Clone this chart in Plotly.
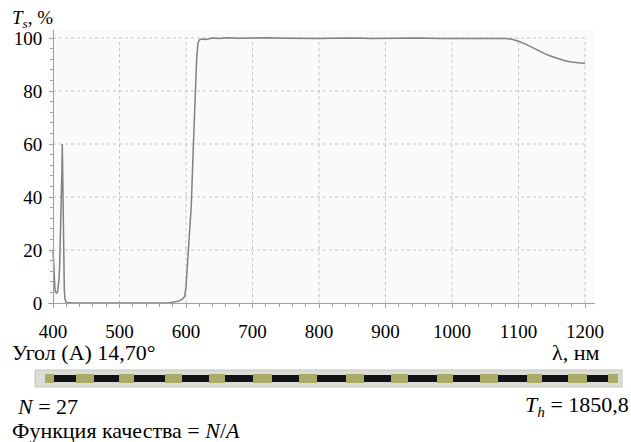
import numpy as np
import plotly.graph_objects as go

# ---- data ----
wavelength = [400, 401, 402, 403, 404, 405, 406, 407, 408, 409, 410, 411, 412, 413, 413.5, 414, 415, 416, 417, 418, 419, 420,
              430, 500, 560, 575, 580, 585, 590, 595, 598, 600, 602, 604, 606, 608, 610, 612, 614, 616, 618, 620, 624, 630,
              640, 650, 660, 680, 700, 720, 750, 780, 800, 820, 850, 880, 900, 920, 950, 980, 1000, 1020, 1040, 1060, 1070,
              1080, 1090, 1100, 1110, 1120, 1130, 1140, 1150, 1160, 1170, 1180, 1190, 1200]
transmittance = [20, 12, 7, 5, 4, 3.8, 3.8, 4.5, 6, 9, 14, 22, 33, 42, 51, 60, 38, 16, 5, 1.5, 0.5, 0.2,
                 0, 0, 0, 0.1, 0.3, 0.5, 0.8, 1.5, 2.5, 6, 14, 24, 31, 37, 52, 68, 82, 92, 98, 99.3, 99.6, 99.4,
                 100, 99.8, 100.1, 99.9, 100, 100.1, 99.9, 99.7, 99.8, 99.9, 100, 99.8, 99.9, 100, 100, 99.8, 99.8, 99.9, 100, 100, 100,
                 99.8, 99.5, 98.8, 97.8, 96.5, 95.2, 94.0, 93.0, 92.1, 91.4, 90.9, 90.6, 90.4]

x_ticks = [400, 500, 600, 700, 800, 900, 1000, 1100, 1200]
y_ticks = [0, 20, 40, 60, 80, 100]

# layer thicknesses (nm), alternating low (olive) / high (black); 27 layers
low_layers = [29.1, 58.2, 48.5, 55.0, 51.8, 61.5, 58.2, 58.2, 55.0, 51.8, 58.2, 48.5, 61.5, 32.4]
high_layers = [71.2, 80.9, 100.3, 87.4, 90.6, 87.4, 90.6, 87.4, 93.8, 87.4, 93.8, 84.1, 67.9]

title_text = "<i>T</i><sub><i>s</i></sub>, %"
angle_text = "Угол (A) 14,70°"
xunit_text = "λ, нм"
n_text = "<i>N</i> = 27"
th_text = "<i>T</i><sub><i>h</i></sub> = 1850,8"
merit_text = "Функция качества = <i>N</i>/<i>A</i>"

# ---- geometry (pixels) ----
W, H = 631, 442
FONT = '"Liberation Serif", "Times New Roman", Tinos, "DejaVu Serif", serif'
px_per_nm = 0.665
px_per_pct = 2.65
plot_l, plot_r, plot_t, plot_b = 48, 595, 30, 305
x0_px, y0_px = 53, 303

xr = [400 - (x0_px - plot_l) / px_per_nm, 400 + (plot_r - x0_px) / px_per_nm]
yr = [-(plot_b - y0_px) / px_per_pct, 100 + (38 - plot_t) / px_per_pct]


def px(xp):
    return xp / W


def py(yp):
    return 1 - yp / H


fig = go.Figure()

fig.add_trace(go.Scatter(x=wavelength, y=transmittance, mode="lines",
                         line=dict(color="#808080", width=1.5), showlegend=False,
                         xaxis="x", yaxis="y", hoverinfo="skip"))

# layer bar
layers = []
kinds = []
for i in range(len(low_layers)):
    layers.append(low_layers[i]); kinds.append("L")
    if i < len(high_layers):
        layers.append(high_layers[i]); kinds.append("H")
starts = np.concatenate([[0], np.cumsum(layers)[:-1]])
total = float(np.sum(layers))

lo_x = [t for t, k in zip(layers, kinds) if k == "L"]
lo_b = [float(s) for s, k in zip(starts, kinds) if k == "L"]
hi_x = [t for t, k in zip(layers, kinds) if k == "H"]
hi_b = [float(s) for s, k in zip(starts, kinds) if k == "H"]

fig.add_trace(go.Bar(x=lo_x, base=lo_b, y=[0.5] * len(lo_x), orientation="h", width=1.0,
                     marker=dict(color="#abab68", line=dict(width=0)), showlegend=False,
                     xaxis="x2", yaxis="y2", hoverinfo="skip"))
fig.add_trace(go.Bar(x=hi_x, base=hi_b, y=[0.5] * len(hi_x), orientation="h", width=0.7,
                     marker=dict(color="#121218", line=dict(width=0)), showlegend=False,
                     xaxis="x2", yaxis="y2", hoverinfo="skip"))

shapes = []
# light plot background
shapes.append(dict(type="rect", xref="paper", yref="paper", x0=px(plot_l), x1=px(plot_r),
                   y0=py(plot_b), y1=py(plot_t), fillcolor="#fafaf8", line=dict(width=0), layer="below"))
# grid
for v in y_ticks[1:]:
    shapes.append(dict(type="line", xref="x", yref="y", x0=400, x1=1200, y0=v, y1=v,
                       line=dict(color="#c4c4c4", width=1, dash="dot"), layer="below"))
for v in x_ticks[1:]:
    shapes.append(dict(type="line", xref="x", yref="y", x0=v, x1=v, y0=0, y1=100,
                       line=dict(color="#c4c4c4", width=1, dash="dot"), layer="below"))
# bar frame
shapes.append(dict(type="rect", xref="paper", yref="paper",
                   x0=px(35), x1=px(622), y0=py(387), y1=py(370),
                   fillcolor="#dcdcd6", line=dict(color="#c4c4bc", width=1), layer="below"))


def ann(text, xpx, ypx, xanchor, size=22):
    return dict(text=text, x=px(xpx), y=py(ypx), xref="paper", yref="paper",
                xanchor=xanchor, yanchor="middle", showarrow=False,
                font=dict(family=FONT, size=size, color="black"))


annotations = [
    ann(title_text, 10, 19, "left", size=19),
    ann(angle_text, 10, 352, "left"),
    ann(xunit_text, 601, 352, "right"),
    ann(n_text, 15, 406, "left"),
    ann(th_text, 631, 406, "right"),
    ann(merit_text, 10, 430, "left"),
]

fig.update_layout(
    width=W, height=H,
    margin=dict(l=0, r=0, t=0, b=0, pad=0, autoexpand=False),
    paper_bgcolor="white", plot_bgcolor="rgba(0,0,0,0)",
    font=dict(family=FONT, size=19, color="black"),
    barmode="overlay", bargap=0, showlegend=False,
    shapes=shapes, annotations=annotations,
    xaxis=dict(domain=[px(plot_l), px(plot_r)], range=xr, tickvals=x_ticks, ticktext=[str(v) for v in x_ticks],
               showgrid=False, zeroline=False, showline=True, linecolor="#a0a0a0", linewidth=1,
               anchor="free", position=py(y0_px), automargin=False,
               ticks="outside", ticklen=4, tickcolor="#a0a0a0",
               minor=dict(dtick=20, tick0=400, ticks="outside", ticklen=3, tickcolor="#a0a0a0", showgrid=False),
               ticklabelstandoff=7,
               tickfont=dict(family=FONT, size=19, color="black"), fixedrange=True),
    yaxis=dict(domain=[py(plot_b), py(plot_t)], range=yr, tickvals=y_ticks, ticktext=[str(v) for v in y_ticks],
               showgrid=False, zeroline=False, showline=True, linecolor="#a0a0a0", linewidth=1,
               anchor="free", position=px(x0_px), automargin=False,
               ticks="outside", ticklen=4, tickcolor="#a0a0a0",
               minor=dict(dtick=4, tick0=0, ticks="outside", ticklen=3, tickcolor="#a0a0a0", showgrid=False),
               ticklabelstandoff=3,
               tickfont=dict(family=FONT, size=19, color="black"), fixedrange=True),
    xaxis2=dict(domain=[px(45), px(618)], range=[0, total], anchor="y2", visible=False, fixedrange=True),
    yaxis2=dict(domain=[py(383), py(374)], range=[0, 1], anchor="x2", visible=False, fixedrange=True),
)

fig.write_html("out.html", config={"displayModeBar": False},
               post_script="document.body.style.margin='0';document.body.style.overflow='hidden';")
